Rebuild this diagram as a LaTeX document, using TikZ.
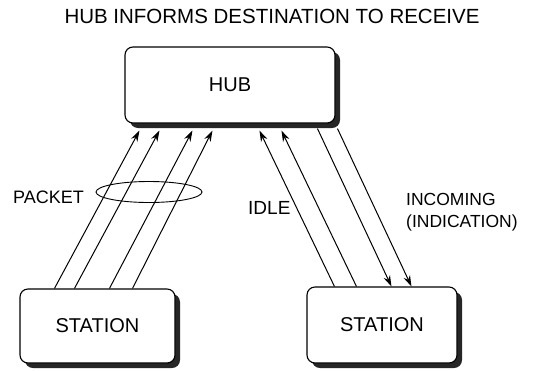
\documentclass[tikz,border=0pt]{standalone}
\usepackage{fontspec}
\setmainfont{Liberation Sans}
\usetikzlibrary{calc,arrows.meta,shapes.geometric}
\begin{document}
\begin{tikzpicture}[x=1pt,y=-1pt,
  box/.style={draw,line width=1.1pt,rounded corners=8pt,fill=white,inner sep=0pt,
    font=\fontsize{20}{22}\selectfont,
    preaction={fill=black!85,transform canvas={shift={(5pt,-5pt)}}}},
  lbl/.style={inner sep=0pt,align=left},
  arr/.style={line width=1pt,-{Stealth[length=11pt,width=7pt]}}]
\useasboundingbox (0,0) rectangle (540,370);
\node[lbl,font=\fontsize{20.5}{22}\selectfont] (title) at (272,16) {HUB INFORMS DESTINATION TO RECEIVE};
\node[box,minimum width=210pt,minimum height=76pt] (hub) at (230,85) {HUB};
\node[box,minimum width=155pt,minimum height=74pt] (ls) at (97.5,326) {STATION};
\node[box,minimum width=150pt,minimum height=76pt] (rs) at (382,325) {STATION};
% left arrows
\foreach \a/\b in {35/15,55/35,90/68,113/88}
  \draw[arr] ($(ls.north west)+(\a,0)$) -- ($(hub.south west)+(\b,7)$);
% idle arrows
\foreach \a/\b in {28/135,50/157}
  \draw[arr] ($(rs.north west)+(\a,0)$) -- ($(hub.south west)+(\b,7)$);
% incoming arrows
\foreach \a/\b in {193/85,213/105}
  \draw[arr] ($(hub.south west)+(\a,5)$) -- ($(rs.north west)+(\b,0)$);
\node[draw,ellipse,line width=0.9pt,minimum width=106pt,minimum height=21pt,inner sep=0pt] (ell) at (149,192) {};
\node[lbl,anchor=west,font=\fontsize{18}{21}\selectfont] (packet) at (13,197) {PACKET};
\node[lbl,anchor=west,font=\fontsize{19}{21}\selectfont] (idle) at (248,208) {IDLE};
\node[lbl,anchor=west,font=\fontsize{17.5}{22}\selectfont] (inc) at (406,212) {INCOMING\\(INDICATION)};
\end{tikzpicture}
\end{document}
